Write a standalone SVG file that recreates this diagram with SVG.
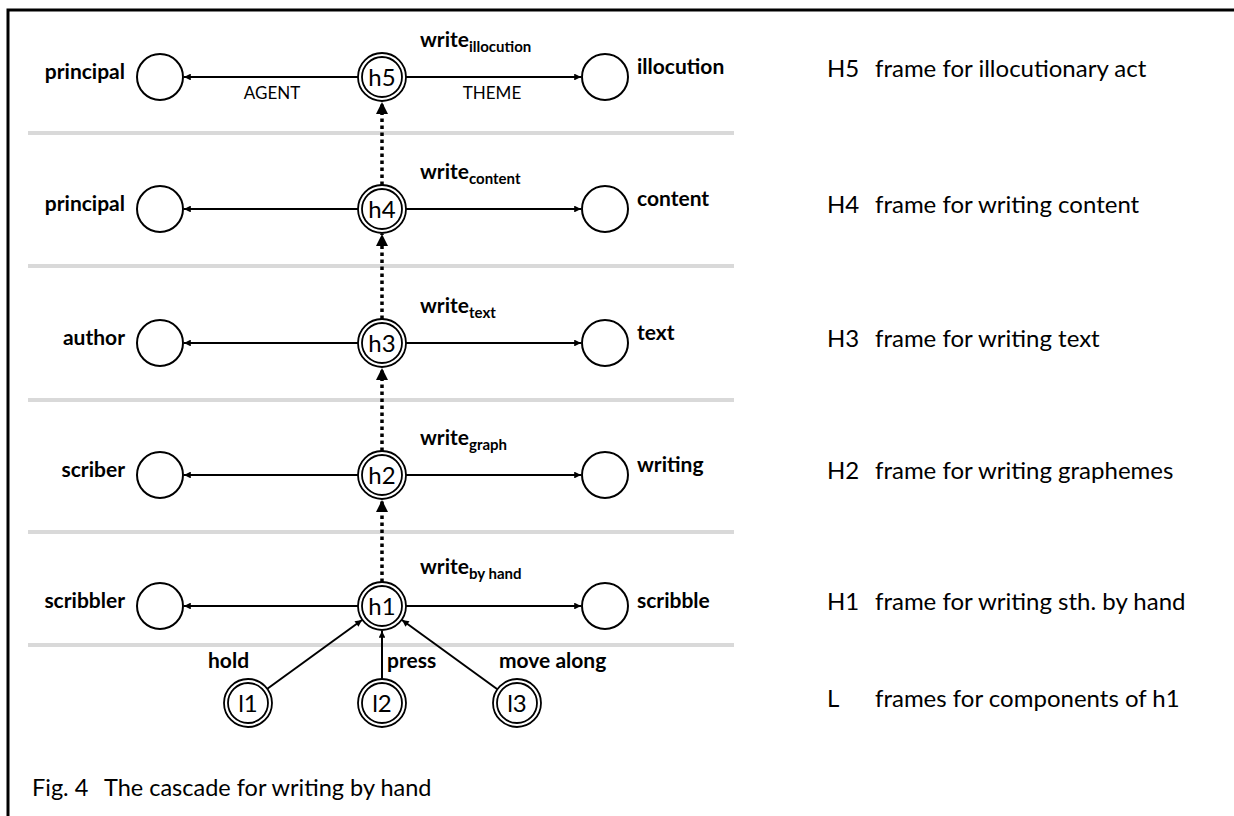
<svg xmlns="http://www.w3.org/2000/svg" width="1234" height="816" viewBox="0 0 1234 816">
  <style>
    .frame { fill: none; stroke: #000; stroke-width: 3; }
    .sep { stroke: #d9d9d9; stroke-width: 4; }
    .ring { fill: #fff; stroke: #000; stroke-width: 1.8; }
    .role { fill: #fff; stroke: #000; stroke-width: 2; }
    .edge { stroke: #000; stroke-width: 2; fill: none; }
    .cascade { stroke: #000; stroke-width: 3.5; stroke-dasharray: 3.5 3.5; fill: none; }
    text { font-family: Lato, "Open Sans", "Liberation Sans", sans-serif; fill: #000; }
    .id { font-size: 24px; text-anchor: middle; }
    .lbl { font-size: 21px; font-weight: bold; }
    .lbl-l { text-anchor: end; }
    .frm { font-size: 21px; font-weight: bold; }
    .sub { font-size: 15px; }
    .rel { font-size: 17px; text-anchor: middle; }
    .key { font-size: 24px; }
    .cap { font-size: 23.5px; }
  </style>
  <defs>
    <marker id="tip" viewBox="0 0 10 10" refX="10" refY="5" markerWidth="4" markerHeight="3.4" orient="auto" markerUnits="strokeWidth">
      <path d="M0,0 L10,5 L0,10 z" fill="#000"/>
    </marker>
    <marker id="tip-big" viewBox="0 0 10 10" refX="10" refY="5" markerWidth="3.5" markerHeight="3.5" orient="auto" markerUnits="strokeWidth">
      <path d="M0,0 L10,5 L0,10 z" fill="#000"/>
    </marker>
  </defs>

  <!-- outer frame (top and left rules) -->
  <path class="frame" d="M8,816 V10 H1234"/>

  <!-- layer separators -->
  <g id="separators">
    <line class="sep" x1="28" y1="133" x2="734" y2="133"/>
    <line class="sep" x1="28" y1="266" x2="734" y2="266"/>
    <line class="sep" x1="28" y1="400" x2="734" y2="400"/>
    <line class="sep" x1="28" y1="532" x2="734" y2="532"/>
    <line class="sep" x1="28" y1="645" x2="734" y2="645"/>
  </g>

  <!-- connectors -->
  <g id="connectors">
    <!-- role edges -->
    <line class="edge" x1="358" y1="77" x2="184" y2="77" marker-end="url(#tip)"/>
    <line class="edge" x1="406" y1="77" x2="581" y2="77" marker-end="url(#tip)"/>
    <line class="edge" x1="358" y1="209" x2="184" y2="209" marker-end="url(#tip)"/>
    <line class="edge" x1="406" y1="209" x2="581" y2="209" marker-end="url(#tip)"/>
    <line class="edge" x1="358" y1="343" x2="184" y2="343" marker-end="url(#tip)"/>
    <line class="edge" x1="406" y1="343" x2="581" y2="343" marker-end="url(#tip)"/>
    <line class="edge" x1="358" y1="475" x2="184" y2="475" marker-end="url(#tip)"/>
    <line class="edge" x1="406" y1="475" x2="581" y2="475" marker-end="url(#tip)"/>
    <line class="edge" x1="358" y1="606" x2="184" y2="606" marker-end="url(#tip)"/>
    <line class="edge" x1="406" y1="606" x2="581" y2="606" marker-end="url(#tip)"/>
    <!-- cascade links between levels -->
    <line class="cascade" x1="382" y1="582" x2="382" y2="500" marker-end="url(#tip-big)"/>
    <line class="cascade" x1="382" y1="451" x2="382" y2="368" marker-end="url(#tip-big)"/>
    <line class="cascade" x1="382" y1="319" x2="382" y2="234" marker-end="url(#tip-big)"/>
    <line class="cascade" x1="382" y1="185" x2="382" y2="102" marker-end="url(#tip-big)"/>
    <!-- component links into h1 -->
    <line class="edge" x1="267" y1="689" x2="362" y2="620" marker-end="url(#tip)"/>
    <line class="edge" x1="382" y1="679" x2="382" y2="631" marker-end="url(#tip)"/>
    <line class="edge" x1="497" y1="689" x2="402" y2="620" marker-end="url(#tip)"/>
  </g>

  <!-- level 5 -->
  <g id="h5">
    <circle class="ring" cx="382" cy="77" r="24"/>
    <circle class="ring" cx="382" cy="77" r="20"/>
    <text class="id" x="382" y="86">h5</text>
    <text class="frm" x="420" y="47">write<tspan class="sub" dy="5">illocution</tspan></text>
  </g>
  <g id="principal5">
    <circle class="role" cx="160" cy="77" r="23"/>
    <text class="lbl lbl-l" x="125" y="79">principal</text>
  </g>
  <g id="illocution">
    <circle class="role" cx="605" cy="77" r="23"/>
    <text class="lbl" x="637" y="74">illocution</text>
  </g>
  <text class="rel" x="272" y="99">AGENT</text>
  <text class="rel" x="492" y="99">THEME</text>

  <!-- level 4 -->
  <g id="h4">
    <circle class="ring" cx="382" cy="209" r="24"/>
    <circle class="ring" cx="382" cy="209" r="20"/>
    <text class="id" x="382" y="218">h4</text>
    <text class="frm" x="420" y="179">write<tspan class="sub" dy="5">content</tspan></text>
  </g>
  <g id="principal4">
    <circle class="role" cx="160" cy="209" r="23"/>
    <text class="lbl lbl-l" x="125" y="211">principal</text>
  </g>
  <g id="content">
    <circle class="role" cx="605" cy="209" r="23"/>
    <text class="lbl" x="637" y="206">content</text>
  </g>

  <!-- level 3 -->
  <g id="h3">
    <circle class="ring" cx="382" cy="343" r="24"/>
    <circle class="ring" cx="382" cy="343" r="20"/>
    <text class="id" x="382" y="352">h3</text>
    <text class="frm" x="420" y="313">write<tspan class="sub" dy="5">text</tspan></text>
  </g>
  <g id="author">
    <circle class="role" cx="160" cy="343" r="23"/>
    <text class="lbl lbl-l" x="125" y="345">author</text>
  </g>
  <g id="text">
    <circle class="role" cx="605" cy="343" r="23"/>
    <text class="lbl" x="637" y="340">text</text>
  </g>

  <!-- level 2 -->
  <g id="h2">
    <circle class="ring" cx="382" cy="475" r="24"/>
    <circle class="ring" cx="382" cy="475" r="20"/>
    <text class="id" x="382" y="484">h2</text>
    <text class="frm" x="420" y="445">write<tspan class="sub" dy="5">graph</tspan></text>
  </g>
  <g id="scriber">
    <circle class="role" cx="160" cy="475" r="23"/>
    <text class="lbl lbl-l" x="125" y="477">scriber</text>
  </g>
  <g id="writing">
    <circle class="role" cx="605" cy="475" r="23"/>
    <text class="lbl" x="637" y="472">writing</text>
  </g>

  <!-- level 1 -->
  <g id="h1">
    <circle class="ring" cx="382" cy="606" r="24"/>
    <circle class="ring" cx="382" cy="606" r="20"/>
    <text class="id" x="382" y="615">h1</text>
    <text class="frm" x="420" y="574">write<tspan class="sub" dy="5">by hand</tspan></text>
  </g>
  <g id="scribbler">
    <circle class="role" cx="160" cy="606" r="23"/>
    <text class="lbl lbl-l" x="125" y="608">scribbler</text>
  </g>
  <g id="scribble">
    <circle class="role" cx="605" cy="606" r="23"/>
    <text class="lbl" x="637" y="608">scribble</text>
  </g>

  <!-- components of h1 -->
  <g id="l1">
    <circle class="ring" cx="248" cy="703" r="24"/>
    <circle class="ring" cx="248" cy="703" r="20"/>
    <text class="id" x="248" y="712">l1</text>
    <text class="frm" x="208" y="668">hold</text>
  </g>
  <g id="l2">
    <circle class="ring" cx="382" cy="703" r="24"/>
    <circle class="ring" cx="382" cy="703" r="20"/>
    <text class="id" x="382" y="712">l2</text>
    <text class="frm" x="387" y="668">press</text>
  </g>
  <g id="l3">
    <circle class="ring" cx="517" cy="703" r="24"/>
    <circle class="ring" cx="517" cy="703" r="20"/>
    <text class="id" x="517" y="712">l3</text>
    <text class="frm" x="499" y="668">move along</text>
  </g>

  <!-- key -->
  <g id="key">
    <text class="key" x="827" y="77">H5<tspan x="875">frame for illocutionary act</tspan></text>
    <text class="key" x="827" y="213">H4<tspan x="875">frame for writing content</tspan></text>
    <text class="key" x="827" y="347">H3<tspan x="875">frame for writing text</tspan></text>
    <text class="key" x="827" y="479">H2<tspan x="875">frame for writing graphemes</tspan></text>
    <text class="key" x="827" y="610">H1<tspan x="875">frame for writing sth. by hand</tspan></text>
    <text class="key" x="827" y="707">L<tspan x="875">frames for components of h1</tspan></text>
  </g>

  <text class="cap" x="32" y="796">Fig. 4<tspan x="104">The cascade for writing by hand</tspan></text>
</svg>
